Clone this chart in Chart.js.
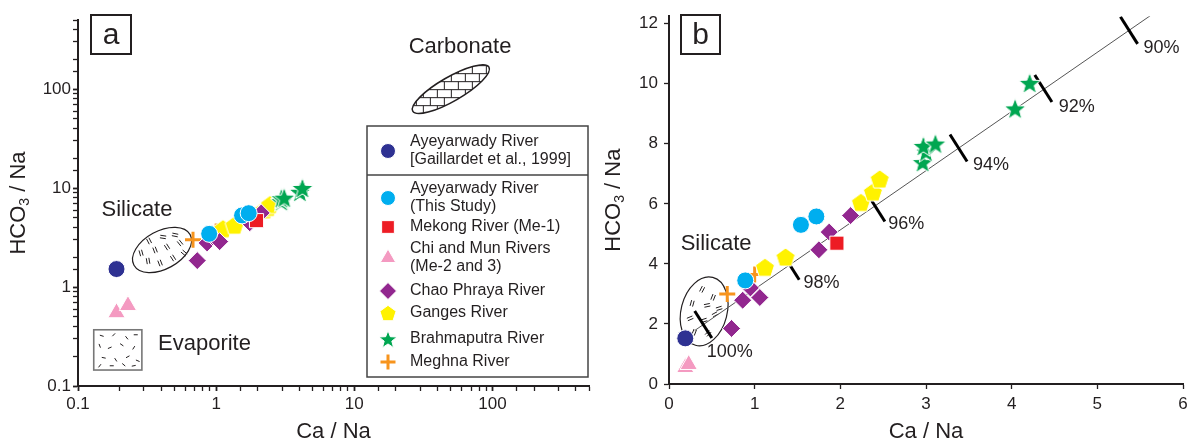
<!DOCTYPE html>
<html>
<head>
<meta charset="utf-8">
<script src="https://cdn.jsdelivr.net/npm/chart.js@4.4.0/dist/chart.umd.min.js"></script>
<style>
  body { margin: 0; background: #fff; }
  #wrap { position: relative; width: 1194px; height: 445px; }
  #chartA { position: absolute; left: 0; top: 0; }
  #chartB { position: absolute; left: 600px; top: 0; }
</style>
</head>
<body>
<div id="wrap">
  <canvas id="chartA" width="600" height="445"></canvas>
  <canvas id="chartB" width="594" height="445"></canvas>
</div>
<script>
// legend names, one entry per river group
var riverNames = [
  ['Ayeyarwady River', '[Gaillardet et al., 1999]'],
  ['Ayeyarwady River', '(This Study)'],
  ['Mekong River (Me-1)'],
  ['Chi and Mun Rivers', '(Me-2 and 3)'],
  ['Chao Phraya River'],
  ['Ganges River'],
  ['Brahmaputra River'],
  ['Meghna River']
];

// Ca/Na and HCO3/Na for each group
var gaillardetCa = [0.19];
var gaillardetHco3 = [1.52];
var thisStudyCa = [0.89, 1.54, 1.72];
var thisStudyHco3 = [3.45, 5.30, 5.58];
var mekongCa = [1.96];
var mekongHco3 = [4.69];
var chiMunCa = [0.19, 0.23];
var chiMunHco3 = [0.55, 0.65];
var chaoPhrayaCa = [0.73, 0.86, 0.95, 1.06, 1.75, 1.87, 2.12];
var chaoPhrayaHco3 = [1.85, 2.79, 3.20, 2.88, 4.47, 5.06, 5.61];
var gangesCa = [1.12, 1.36, 2.24, 2.38, 2.46];
var gangesHco3 = [3.89, 4.23, 6.05, 6.40, 6.83];
var brahmaputraCa = [2.96, 3.00, 2.97, 3.11, 4.04, 4.21];
var brahmaputraHco3 = [7.39, 7.74, 7.93, 8.01, 9.18, 10.03];
var meghnaCa = [0.68, 1.00];
var meghnaHco3 = [3.00, 3.65];

// mixing line of panel b and its percent marks
var mixLineCa = [0.30, 5.65];
var mixLineHco3 = [1.78, 12.33];
var mixLabels = ['100%', '98%', '96%', '94%', '92%', '90%'];
var mixCa = [0.40, 1.42, 2.42, 3.38, 4.37, 5.37];
var mixHco3 = [1.98, 3.92, 5.86, 7.86, 9.84, 11.78];

// tick labels
var logTickLabels = [0.1, 1, 10, 100];
var linXStep = 1;
var linYStep = 2;

var INK = '#231f20';
var FONT = 'Liberation Sans, Arial, sans-serif';

function pts(xs, ys) {
  return xs.map(function (x, i) { return { x: x, y: ys[i] }; });
}

function shapeCanvas(size, fill, pathFn) {
  var c = document.createElement('canvas');
  c.width = size; c.height = size;
  var g = c.getContext('2d');
  g.translate(size / 2, size / 2);
  g.beginPath(); pathFn(g); g.closePath();
  g.fillStyle = fill; g.fill();
  g.strokeStyle = '#ffffff'; g.lineWidth = 1; g.stroke();
  return c;
}
function pentagonPath(r) {
  return function (g) {
    for (var i = 0; i < 5; i++) {
      var a = -Math.PI / 2 + i * 2 * Math.PI / 5;
      g.lineTo(r * Math.cos(a), r * Math.sin(a) + r * 0.1);
    }
  };
}
function starPath(R, r) {
  return function (g) {
    for (var i = 0; i < 10; i++) {
      var a = -Math.PI / 2 + i * Math.PI / 5;
      var q = i % 2 ? r : R;
      g.lineTo(q * Math.cos(a), q * Math.sin(a) + R * 0.1);
    }
  };
}
var pentagonPt = shapeCanvas(22, '#fff200', pentagonPath(10));
var pentagonLeg = shapeCanvas(20, '#fff200', pentagonPath(8.5));
var starPt = shapeCanvas(26, '#00a651', starPath(11.5, 4.8));
var starLeg = shapeCanvas(22, '#00a651', starPath(9.5, 4));

var markerStyles = [
  { style: 'circle', r: 8.5, lr: 7.5, color: '#2e3192' },
  { style: 'circle', r: 8.5, lr: 7.5, color: '#00aeef' },
  { style: 'rect', r: 10, lr: 9, color: '#ed1c24' },
  { style: 'triangle', r: 10, lr: 9, color: '#f49ac1' },
  { style: 'rectRot', r: 9, lr: 8.5, color: '#92278f' },
  { style: pentagonPt, leg: pentagonLeg, r: 9, lr: 8, color: '#fff200' },
  { style: starPt, leg: starLeg, r: 10, lr: 9, color: '#00a651' },
  { style: 'cross', r: 8, lr: 7.5, color: '#f7941d' }
];
var seriesData = [
  [gaillardetCa, gaillardetHco3],
  [thisStudyCa, thisStudyHco3],
  [mekongCa, mekongHco3],
  [chiMunCa, chiMunHco3],
  [chaoPhrayaCa, chaoPhrayaHco3],
  [gangesCa, gangesHco3],
  [brahmaputraCa, brahmaputraHco3],
  [meghnaCa, meghnaHco3]
];

function markerSets() {
  return seriesData.map(function (s, i) {
    var m = markerStyles[i];
    var cross = m.style === 'cross';
    return {
      label: riverNames[i].join(' '),
      data: pts(s[0], s[1]),
      pointStyle: m.style,
      pointRadius: m.r,
      pointHoverRadius: m.r,
      backgroundColor: m.color,
      borderColor: cross ? m.color : '#ffffff',
      borderWidth: cross ? 3 : 1,
      order: i === 6 ? -1 : 0,
      clip: false
    };
  });
}

function axisBase(tickLen, pad) {
  return {
    border: { display: true, color: INK, width: 2 },
    grid: {
      display: true, drawOnChartArea: false, drawTicks: true,
      tickLength: tickLen, tickColor: INK,
      tickWidth: function (c) { return c.tick && c.tick.major ? 1.8 : 1.3; }
    },
    ticks: { color: INK, font: { family: FONT, size: 17 }, padding: pad, autoSkip: false, maxRotation: 0 }
  };
}

function xTitle() {
  return { display: true, text: 'Ca / Na', color: INK, font: { family: FONT, size: 22 }, padding: { top: 0, bottom: 0 } };
}

function drawYTitle(ctx, cx, cy) {
  ctx.save();
  ctx.translate(cx, cy);
  ctx.rotate(-Math.PI / 2);
  ctx.fillStyle = INK;
  ctx.textBaseline = 'middle';
  ctx.textAlign = 'left';
  var big = '22px ' + FONT, small = '14px ' + FONT;
  ctx.font = big; var w1 = ctx.measureText('HCO').width; var w3 = ctx.measureText(' / Na').width;
  ctx.font = small; var w2 = ctx.measureText('3').width;
  var x0 = -(w1 + w2 + w3) / 2;
  ctx.font = big; ctx.fillText('HCO', x0, 0);
  ctx.font = small; ctx.fillText('3', x0 + w1, 6);
  ctx.font = big; ctx.fillText(' / Na', x0 + w1 + w2, 0);
  ctx.restore();
}

function panelBox(ctx, x, y, w, h, letter) {
  ctx.save();
  ctx.strokeStyle = INK; ctx.lineWidth = 2;
  ctx.strokeRect(x, y, w, h);
  ctx.fillStyle = INK; ctx.font = '30px ' + FONT;
  ctx.textAlign = 'center'; ctx.textBaseline = 'middle';
  ctx.fillText(letter, x + w / 2, y + h / 2 + 1);
  ctx.restore();
}

function label(ctx, text, x, y, size, align) {
  ctx.save();
  ctx.fillStyle = INK; ctx.font = size + 'px ' + FONT;
  ctx.textAlign = align || 'center'; ctx.textBaseline = 'middle';
  ctx.fillText(text, x, y);
  ctx.restore();
}

function dashes(ctx, cx, cy, marks, len, dbl) {
  ctx.save();
  ctx.strokeStyle = INK; ctx.lineWidth = 1;
  marks.forEach(function (m) {
    var a = m[2], dx = Math.cos(a) * len / 2, dy = Math.sin(a) * len / 2;
    var offs = dbl ? [-1.3, 1.3] : [0];
    offs.forEach(function (o) {
      var px = -Math.sin(a) * o, py = Math.cos(a) * o;
      ctx.beginPath();
      ctx.moveTo(cx + m[0] + px - dx, cy + m[1] + py - dy);
      ctx.lineTo(cx + m[0] + px + dx, cy + m[1] + py + dy);
      ctx.stroke();
    });
  });
  ctx.restore();
}

function silicateEllipse(ctx, cx, cy, rx, ry, rot, marks) {
  ctx.save();
  ctx.strokeStyle = INK; ctx.lineWidth = 1.2;
  ctx.beginPath(); ctx.ellipse(cx, cy, rx, ry, rot, 0, Math.PI * 2); ctx.stroke();
  ctx.restore();
  dashes(ctx, cx, cy, marks, 6, true);
}

function carbonate(ctx, cx, cy) {
  ctx.save();
  ctx.translate(cx, cy);
  ctx.beginPath(); ctx.ellipse(0, 0, 44, 12, -Math.PI / 6, 0, Math.PI * 2);
  ctx.save();
  ctx.clip();
  ctx.strokeStyle = INK; ctx.lineWidth = 1;
  for (var row = -5; row <= 5; row++) {
    var y = row * 8 + 0.5;
    ctx.beginPath(); ctx.moveTo(-50, y); ctx.lineTo(50, y); ctx.stroke();
    for (var col = -5; col <= 5; col++) {
      var x = col * 14 + (Math.abs(row) % 2 ? 7 : 0) + 0.5;
      ctx.beginPath(); ctx.moveTo(x, y); ctx.lineTo(x, y + 8); ctx.stroke();
    }
  }
  ctx.restore();
  ctx.beginPath(); ctx.ellipse(0, 0, 44, 12, -Math.PI / 6, 0, Math.PI * 2);
  ctx.strokeStyle = INK; ctx.lineWidth = 1.5; ctx.stroke();
  ctx.restore();
}

function legendMarker(ctx, i, x, y) {
  var m = markerStyles[i];
  if (m.leg) {
    ctx.drawImage(m.leg, x - m.leg.width / 2, y - m.leg.height / 2);
    return;
  }
  var cross = m.style === 'cross';
  ctx.save();
  ctx.fillStyle = m.color;
  ctx.strokeStyle = cross ? m.color : '#ffffff';
  ctx.lineWidth = cross ? 3 : 1;
  Chart.helpers.drawPoint(ctx, { pointStyle: m.style, radius: m.lr, rotation: 0, borderWidth: cross ? 3 : 1 }, x, y);
  ctx.restore();
}

var silicateMarksA = [[-13, -9, 1.1], [1, -13, 0.15], [13, -15, 0.2], [-21, 3, 1.3], [-7, 0, 1.2],
  [5, -3, 1.0], [18, -7, 0.9], [-14, 11, 1.4], [-2, 13, 1.2], [11, 8, 1.0], [22, 3, 0.7]];
var silicateMarksB = [[-2, -22, -1.1], [9, -14, -1.2], [-12, -8, -1.3], [3, -6, -0.2],
  [-14, 7, -0.4], [0, 9, -0.3], [11, 3, -0.5], [-10, 21, -1.2], [4, 22, -0.8], [15, -3, -0.3]];
var evapMarks = [[8, 6, 0.3], [20, 5, -0.8], [33, 8, 0.9], [42, 5, 0], [6, 16, 1.2], [16, 18, -0.4],
  [28, 15, 0.6], [40, 18, -1], [10, 28, 0.2], [22, 30, 1.0], [34, 27, -0.5], [44, 31, 0.4],
  [6, 36, -0.9], [18, 36, 0], [30, 35, 0.7], [40, 36, -0.2]];

var annotateA = {
  id: 'annotateA',
  beforeDatasetsDraw: function (chart) {
    var ctx = chart.ctx, xs = chart.scales.x, ys = chart.scales.y;
    carbonate(ctx, xs.getPixelForValue(50), ys.getPixelForValue(100));
    silicateEllipse(ctx, xs.getPixelForValue(0.406), ys.getPixelForValue(2.37), 32, 19, -0.5, silicateMarksA);
    var ex0 = xs.getPixelForValue(0.13), ex1 = xs.getPixelForValue(0.29);
    var ey0 = ys.getPixelForValue(0.37), ey1 = ys.getPixelForValue(0.145);
    ctx.save();
    ctx.strokeStyle = '#777'; ctx.lineWidth = 1.6;
    ctx.strokeRect(ex0, ey0, ex1 - ex0, ey1 - ey0);
    ctx.restore();
    dashes(ctx, ex0, ey0, evapMarks, 4, false);
  },
  afterDraw: function (chart) {
    var ctx = chart.ctx, a = chart.chartArea;
    label(ctx, 'Carbonate', 460, 47, 22);
    label(ctx, 'Silicate', 137, 210, 22);
    label(ctx, 'Evaporite', 158, 344, 22, 'left');
    panelBox(ctx, a.left + 13, 15, 40, 39, 'a');
    drawYTitle(ctx, 19, (a.top + a.bottom) / 2);

    // boxed legend
    var bx = 367, by = 126, bw = 221, bh = 251;
    ctx.save();
    ctx.strokeStyle = '#444'; ctx.lineWidth = 1.5;
    ctx.strokeRect(bx, by, bw, bh);
    ctx.beginPath(); ctx.moveTo(bx, by + 49); ctx.lineTo(bx + bw, by + 49); ctx.stroke();
    ctx.restore();
    var rowY = [25, 72, 101, 132, 165, 187, 213, 236];
    riverNames.forEach(function (lines, i) {
      var my = by + rowY[i];
      legendMarker(ctx, i, bx + 21, my);
      lines.forEach(function (t, k) {
        var ty = my + (lines.length === 2 ? (k === 0 ? -9 : 9) : 0);
        label(ctx, t, bx + 43, ty, 16, 'left');
      });
    });
  }
};

var annotateB = {
  id: 'annotateB',
  beforeDatasetsDraw: function (chart) {
    var ctx = chart.ctx, xs = chart.scales.x, ys = chart.scales.y;
    silicateEllipse(ctx, xs.getPixelForValue(0.41), ys.getPixelForValue(2.42), 23, 35, 0.25, silicateMarksB);
  },
  afterDraw: function (chart) {
    var ctx = chart.ctx, a = chart.chartArea, xs = chart.scales.x, ys = chart.scales.y;
    var labelPos = [[0.71, 1.07], [1.78, 3.35], [2.77, 5.32], [3.76, 7.28], [4.76, 9.21], [5.75, 11.18]];
    mixLabels.forEach(function (t, i) {
      label(ctx, t, xs.getPixelForValue(labelPos[i][0]), ys.getPixelForValue(labelPos[i][1]), 18);
    });
    label(ctx, 'Silicate', xs.getPixelForValue(0.55), ys.getPixelForValue(4.68), 22);
    panelBox(ctx, a.left + 12, 15, 39, 39, 'b');
    drawYTitle(ctx, 14, (a.top + a.bottom) / 2);
  }
};

// panel a: log-log
var xA = axisBase(5, 3);
xA.type = 'logarithmic'; xA.position = 'bottom'; xA.min = 0.1; xA.max = 500;
xA.title = xTitle();
xA.ticks.callback = function (v) {
  return logTickLabels.some(function (t) { return Math.abs(t - v) < t * 1e-6; }) ? String(Number(v.toPrecision(1))) : '';
};
xA.afterFit = function (s) { s.height = 59; };
var yA = axisBase(5, 2);
yA.type = 'logarithmic'; yA.position = 'left'; yA.min = 0.1; yA.max = 500;
yA.ticks.callback = xA.ticks.callback;
yA.afterFit = function (s) { s.width = 78; };

new Chart(document.getElementById('chartA'), {
  type: 'scatter',
  data: { datasets: markerSets() },
  options: {
    responsive: false, animation: false, events: [],
    layout: { padding: { top: 20, right: 11, left: 0, bottom: 0 } },
    plugins: { legend: { display: false }, tooltip: { enabled: false } },
    scales: { x: xA, y: yA }
  },
  plugins: [annotateA]
});

// panel b: linear with mixing line
var xB = axisBase(5, 5);
xB.type = 'linear'; xB.position = 'bottom'; xB.min = 0; xB.max = 6;
xB.ticks.stepSize = linXStep;
xB.title = xTitle();
xB.afterFit = function (s) { s.height = 61; };
var yB = axisBase(5, 6);
yB.type = 'linear'; yB.position = 'left'; yB.min = 0; yB.max = 12.25;
yB.ticks.stepSize = linYStep; yB.ticks.includeBounds = false;
yB.afterFit = function (s) { s.width = 69; };

var setsB = markerSets();
setsB.push({
  label: 'mixing line', data: pts(mixLineCa, mixLineHco3), showLine: true,
  borderColor: '#555', borderWidth: 1, pointRadius: 0, order: 10
});
mixCa.forEach(function (x, i) {
  setsB.push({
    label: mixLabels[i], showLine: true, borderColor: '#000', borderWidth: 3,
    pointRadius: 0, order: 9,
    data: [{ x: x - 0.1, y: mixHco3[i] + 0.45 }, { x: x + 0.1, y: mixHco3[i] - 0.45 }]
  });
});

new Chart(document.getElementById('chartB'), {
  type: 'scatter',
  data: { datasets: setsB },
  options: {
    responsive: false, animation: false, events: [],
    layout: { padding: { top: 14, right: 11, left: 0, bottom: 0 } },
    plugins: { legend: { display: false }, tooltip: { enabled: false } },
    scales: { x: xB, y: yB }
  },
  plugins: [annotateB]
});
</script>
</body>
</html>
